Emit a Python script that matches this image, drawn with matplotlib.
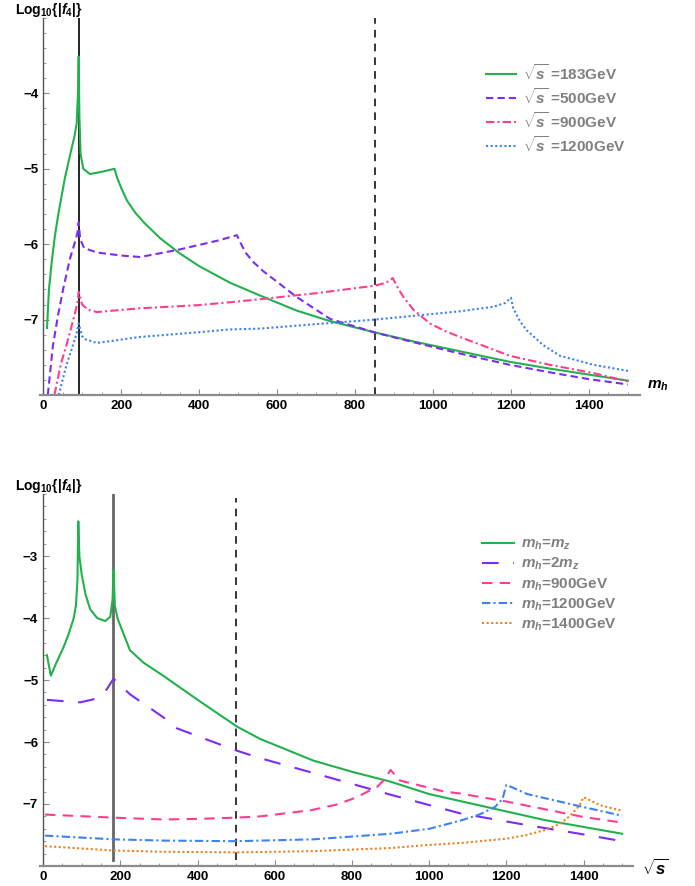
import numpy as np
import matplotlib
matplotlib.use('Agg')
import matplotlib.pyplot as plt

plt.rcParams['font.family'] = ['Liberation Sans', 'DejaVu Sans']
plt.rcParams['font.weight'] = 'bold'
plt.rcParams['mathtext.fontset'] = 'custom'
plt.rcParams['mathtext.rm'] = 'Liberation Sans:bold'
plt.rcParams['mathtext.bf'] = 'Liberation Sans:bold'
plt.rcParams['mathtext.it'] = 'Liberation Sans:italic:bold'
plt.rcParams['axes.unicode_minus'] = True

# ---- upper panel: log10|f4| vs m_h for fixed sqrt(s) ----
mh_183 = [10, 15, 23, 30, 39, 56, 73, 80, 86, 89.5, 91.2, 93, 96, 103, 120, 150, 183, 190, 200, 215, 236,
          260, 300, 350, 400, 479, 556, 650, 736, 851, 950, 1069, 1197, 1300, 1400, 1500]
f4_183 = [-7.11, -6.6, -6.19, -5.9, -5.6, -5.12, -4.73, -4.58, -4.4, -4.0, -3.51, -4.3, -4.8, -5.0, -5.07, -5.04, -5.0, -5.12, -5.25, -5.42, -5.58,
          -5.72, -5.92, -6.12, -6.29, -6.51, -6.68, -6.88, -7.02, -7.17, -7.29, -7.42, -7.56, -7.65, -7.73, -7.81]

mh_500 = [12, 25, 38, 52, 69, 83, 88, 91.2, 95, 105, 138, 200, 249, 300, 350, 400, 450, 497,
          510, 522, 540, 565, 608, 650, 736, 850, 950, 1069, 1197, 1300, 1400, 1500]
f4_500 = [-8.0, -7.35, -6.95, -6.58, -6.19, -5.95, -5.85, -5.71, -5.93, -6.05, -6.11, -6.15, -6.17, -6.12, -6.07, -6.01, -5.95, -5.88,
          -6.02, -6.13, -6.24, -6.36, -6.53, -6.70, -6.99, -7.17, -7.3, -7.45, -7.6, -7.7, -7.79, -7.86]

mh_900 = [29, 45, 62, 80, 88, 91.2, 100, 115, 138, 249, 394, 479, 556, 700, 851, 880, 897,
          910, 924, 950, 992, 1030, 1069, 1197, 1300, 1412, 1500]
f4_900 = [-8.0, -7.6, -7.30, -6.95, -6.78, -6.63, -6.8, -6.87, -6.9, -6.85, -6.81, -6.77, -6.73, -6.65, -6.55, -6.51, -6.45,
          -6.58, -6.70, -6.87, -7.05, -7.15, -7.23, -7.48, -7.6, -7.71, -7.82]

mh_1200 = [40, 60, 74, 85, 91.2, 100, 108, 138, 249, 394, 479, 556, 700, 851, 1069, 1155, 1185, 1200,
           1206, 1223, 1240, 1283, 1326, 1412, 1500]
f4_1200 = [-8.0, -7.6, -7.38, -7.2, -7.05, -7.22, -7.26, -7.31, -7.23, -7.17, -7.13, -7.12, -7.06, -7.0, -6.89, -6.83, -6.78, -6.71,
           -6.85, -7.02, -7.14, -7.34, -7.48, -7.6, -7.68]

# ---- lower panel: log10|f4| vs sqrt(s) for fixed m_h ----
rs_mz = [10, 20, 36, 53, 65, 79, 85, 89, 91.2, 94, 100, 110, 122, 140, 161, 174, 180, 182.4, 186, 193, 225,
         260, 311, 398, 502, 562, 700, 800, 900, 1000, 1200, 1300, 1500]
f4_mz = [-4.6, -4.93, -4.7, -4.47, -4.28, -4.01, -3.8, -3.4, -2.44, -3.0, -3.3, -3.62, -3.86, -4.0, -4.05, -3.98, -3.7, -3.23, -3.8, -4.01, -4.52,
         -4.72, -4.93, -5.31, -5.75, -5.95, -6.3, -6.48, -6.64, -6.84, -7.12, -7.26, -7.48]

rs_2mz = [10, 50, 96, 139, 165, 182.4, 225, 311, 347, 415, 502, 562, 700, 900, 1080, 1253, 1400, 1500]
f4_2mz = [-5.32, -5.34, -5.36, -5.3, -5.15, -4.98, -5.23, -5.6, -5.78, -5.94, -6.14, -6.26, -6.5, -6.85, -7.15, -7.34, -7.49, -7.6]

rs_900 = [5, 183, 311, 399, 502, 562, 694, 760, 809, 866, 885, 900, 924, 1039, 1080, 1200, 1400, 1500]
f4_900b = [-7.17, -7.22, -7.25, -7.24, -7.22, -7.2, -7.1, -7.01, -6.9, -6.72, -6.6, -6.45, -6.62, -6.8, -6.83, -6.96, -7.21, -7.3]

rs_1200 = [5, 183, 311, 500, 700, 900, 1000, 1080, 1130, 1170, 1190, 1200, 1254, 1400, 1500]
f4_1200b = [-7.51, -7.57, -7.59, -7.6, -7.57, -7.48, -7.4, -7.27, -7.17, -7.05, -6.92, -6.69, -6.84, -7.05, -7.19]

rs_1400 = [5, 183, 311, 500, 700, 900, 1000, 1080, 1200, 1252, 1300, 1339, 1365, 1390, 1400, 1443, 1500]
f4_1400 = [-7.68, -7.75, -7.77, -7.78, -7.76, -7.71, -7.66, -7.63, -7.56, -7.5, -7.42, -7.32, -7.19, -7.02, -6.89, -7.02, -7.11]

m_z = 91.19
green = '#22b14c'
purple = '#7b2cf5'
pink = '#ff3d8f'
blue = '#3b82f6'
orange = '#f0801f'
gray_txt = '#808080'


def style_axes(ax, xlim, ylim, yticks):
    ax.set_xlim(*xlim)
    ax.set_ylim(*ylim)
    ax.spines['top'].set_visible(False)
    ax.spines['right'].set_visible(False)
    ax.spines['left'].set_position(('data', 0))
    ax.spines['left'].set_color('#555555')
    ax.spines['left'].set_linewidth(1.0)
    ax.spines['bottom'].set_color('#8c8c8c')
    ax.spines['bottom'].set_linewidth(1.6)
    ax.set_xticks(range(0, 1401, 200))
    ax.set_xticks(range(0, 1501, 50), minor=True)
    ax.set_yticks(yticks)
    ax.set_yticks(np.arange(yticks[0] - 1, yticks[-1] + 1.01, 0.2), minor=True)
    ax.tick_params(which='both', direction='in', colors='#8c8c8c', labelcolor='black', labelsize=9.5)
    ax.tick_params(which='major', length=4, width=0.8)
    ax.tick_params(which='minor', length=2.2, width=0.6)
    for lab in ax.get_xticklabels() + ax.get_yticklabels():
        lab.set_fontweight('bold')
    ax.text(-0.042, 1.021, r'Log$_{10}${|$f_4$|}', transform=ax.transAxes,
            ha='left', va='center', fontsize=10)


fig = plt.figure(figsize=(6.95, 8.86), dpi=100)

# upper panel
ax1 = fig.add_axes([40 / 695, 1 - 395 / 886, 600 / 695, 377 / 886])
style_axes(ax1, (-8, 1531), (-7.92, -3.43), [-7, -6, -5, -4])
ax1.axvline(m_z, color='black', lw=1.2)
ax1.axvline(850, color='black', lw=1.1, dashes=(5, 4))
ax1.plot(mh_183, f4_183, color=green, lw=1.5, label=r'$\sqrt{s}$ =183GeV')
ax1.plot(mh_500, f4_500, color=purple, lw=1.5, dashes=(3.5, 2), label=r'$\sqrt{s}$ =500GeV')
ax1.plot(mh_900, f4_900, color=pink, lw=1.5, dashes=(4, 1.5, 1, 1.5), label=r'$\sqrt{s}$ =900GeV')
ax1.plot(mh_1200, f4_1200, color=blue, lw=1.5, dashes=(1, 1.2), label=r'$\sqrt{s}$ =1200GeV')
ax1.text(1.012, 0.025, r'$m_h$', transform=ax1.transAxes, ha='left', va='center', fontsize=11)
leg1 = ax1.legend(loc='upper left', bbox_to_anchor=(0.73, 0.902), frameon=False, fontsize=11,
                  handlelength=2.0, handletextpad=0.45, labelspacing=0.26, borderpad=0)
for t in leg1.get_texts():
    t.set_color(gray_txt)

# lower panel
ax2 = fig.add_axes([40 / 695, 1 - 866 / 886, 593 / 695, 372 / 886])
style_axes(ax2, (-8, 1528), (-7.863, -2.19), [-7, -6, -5, -4, -3])
ax2.axvline(2 * m_z, ymin=0.016, ymax=1, color='#666666', lw=2.0)
ax2.axvline(500, ymin=0.016, ymax=0.99, color='black', lw=1.1, dashes=(5, 4))
ax2.plot(rs_mz, f4_mz, color=green, lw=1.5, label=r'$m_h$=$m_z$')
ax2.plot(rs_2mz, f4_2mz, color=purple, lw=1.5, dashes=(8, 7), label=r'$m_h$=2$m_z$')
ax2.plot(rs_900, f4_900b, color=pink, lw=1.5, dashes=(5, 3.5), label=r'$m_h$=900GeV')
ax2.plot(rs_1200, f4_1200b, color=blue, lw=1.5, dashes=(4, 1.5, 1, 1.5), label=r'$m_h$=1200GeV')
ax2.plot(rs_1400, f4_1400, color=orange, lw=1.5, dashes=(1, 1.2), label=r'$m_h$=1400GeV')
ax2.text(1.015, -0.005, r'$\sqrt{s}$', transform=ax2.transAxes, ha='left', va='center', fontsize=12)
leg2 = ax2.legend(loc='upper left', bbox_to_anchor=(0.733, 0.905), frameon=False, fontsize=11,
                  handlelength=2.1, handletextpad=0.4, labelspacing=0.24, borderpad=0)
for t in leg2.get_texts():
    t.set_color(gray_txt)

fig.savefig('out.png', dpi=100)
